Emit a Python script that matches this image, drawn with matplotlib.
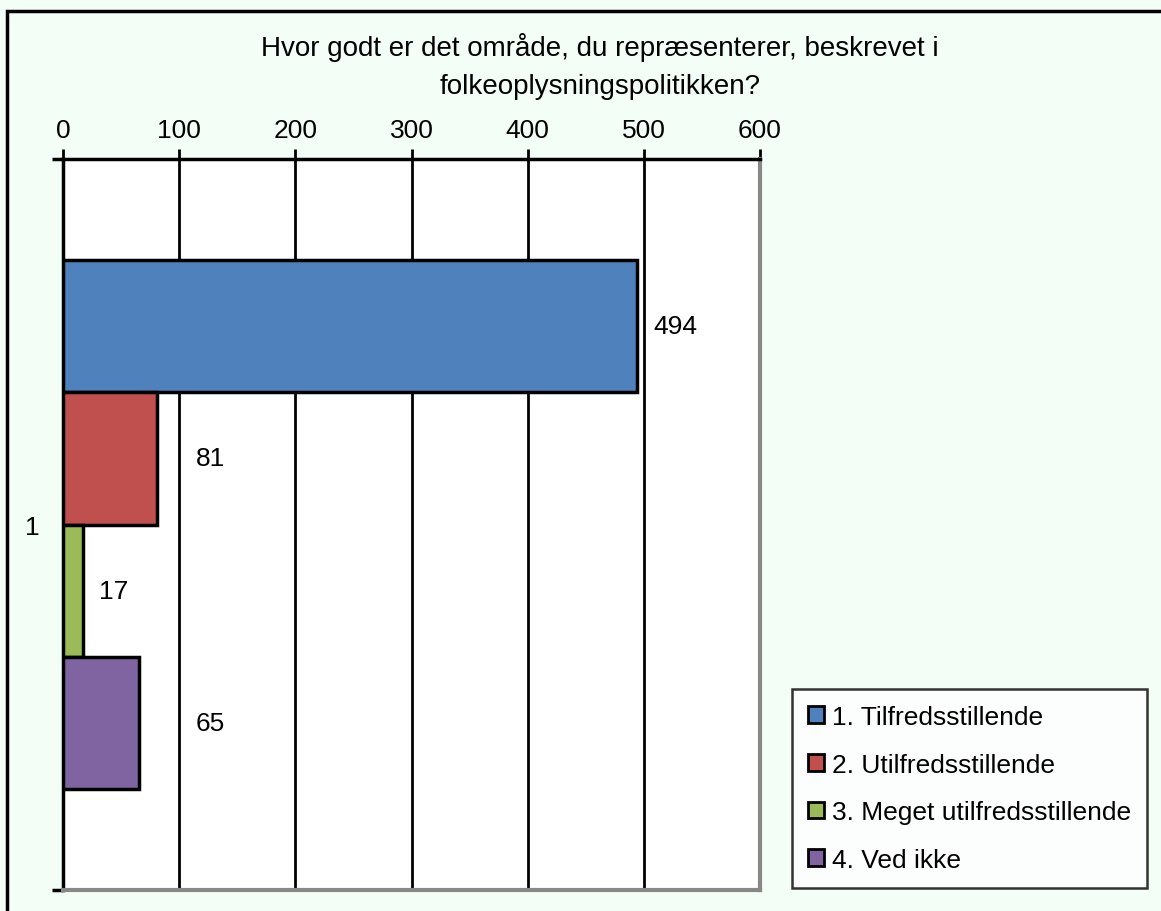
import matplotlib.pyplot as plt
from matplotlib.patches import Rectangle

plt.rcParams['font.family'] = ['Liberation Sans', 'DejaVu Sans']

title = "Hvor godt er det område, du repræsenterer, beskrevet i\nfolkeoplysningspolitikken?"
labels = ["1. Tilfredsstillende", "2. Utilfredsstillende",
          "3. Meget utilfredsstillende", "4. Ved ikke"]
values = [494, 81, 17, 65]
colors = ["#4F81BD", "#C0504D", "#9BBB59", "#8064A2"]
category = ["1"]
xticks = [0, 100, 200, 300, 400, 500, 600]
# label offsets in points (Excel shifted some labels off the gridlines)
label_pad = [12, 28, 12, 41]

fs = 19
bg = "#F3FEF7"
fig = plt.figure(figsize=(11.61, 9.12), dpi=100, facecolor=bg)
ax = fig.add_axes([63 / 1161, 1 - 891 / 912, 697 / 1161, 731 / 912])
ax.set_facecolor("white")

h = 0.1806
for i, (lab, v, c) in enumerate(zip(labels, values, colors)):
    y = (i - 1.5) * h
    ax.barh(y, v, height=h, color=c, edgecolor="black", linewidth=2.5,
            label=lab, zorder=3)
    ax.annotate(str(v), xy=(v, y), xytext=(label_pad[i], 0),
                textcoords="offset points", va="center", ha="left",
                fontsize=fs, zorder=4)

ax.set_xlim(0, 600)
ax.set_ylim(0.5, -0.5)
ax.xaxis.tick_top()
ax.set_xticks(xticks)
ax.tick_params(axis="x", direction="out", length=7, width=2, labelsize=fs,
               pad=5.5, colors="black")
ax.grid(axis="x", color="black", linewidth=2, zorder=1)
ax.set_yticks([0])
ax.set_yticklabels(category)
ax.set_yticks([-0.5, 0.5], minor=True)
ax.tick_params(axis="y", which="major", length=0, labelsize=fs, pad=17)
ax.tick_params(axis="y", which="minor", direction="out", length=8, width=2.5)

ax.spines["left"].set_color("black")
ax.spines["left"].set_linewidth(2.5)
ax.spines["top"].set_color("black")
ax.spines["top"].set_linewidth(2.5)
ax.spines["right"].set_color("#888888")
ax.spines["right"].set_linewidth(3)
ax.spines["bottom"].set_color("#888888")
ax.spines["bottom"].set_linewidth(3)

fig.text(600 / 1161, 1 - 66 / 912, title, ha="center", va="center",
         fontsize=20, linespacing=1.6)

leg = ax.legend(loc="upper left", bbox_to_anchor=(792 / 1161, 1 - 690 / 912),
                bbox_transform=fig.transFigure, fontsize=fs, frameon=True,
                fancybox=False, handlelength=0.6, handleheight=0.6,
                handletextpad=0.3, labelspacing=0.9, borderpad=0.6,
                borderaxespad=0)
leg.get_frame().set_edgecolor("black")
leg.get_frame().set_linewidth(1.8)
for p in leg.get_patches():
    p.set_linewidth(2)

fig.patches.append(Rectangle((7 / 1161, -0.05), 1.1, 1.05 - 12 / 912,
                             transform=fig.transFigure, fill=False,
                             edgecolor="black", linewidth=2.5, clip_on=False))

fig.savefig("out.png", dpi=100, facecolor=bg)
